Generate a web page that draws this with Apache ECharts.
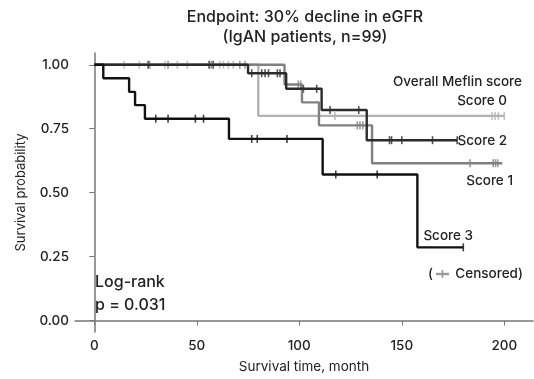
<!DOCTYPE html>
<html>
<head>
<meta charset="utf-8">
<script src="https://cdn.jsdelivr.net/npm/echarts@6/dist/echarts.min.js"></script>
<style>
  html, body { margin: 0; padding: 0; background: #fff; }
  #chart { width: 534px; height: 379px; }
</style>
</head>
<body>
<div id="chart"></div>
<script>
  // KM step curves: [month, survival]
  const score0Curve = [[0, 1], [80, 0.80], [200, 0.80]];
  const score1Curve = [[0, 1], [92.8, 0.923], [101.3, 0.853], [109.6, 0.763], [135.5, 0.615], [199, 0.615]];
  const score2Curve = [[0, 1], [75, 0.967], [93.6, 0.906], [110.9, 0.823], [132.9, 0.705], [177, 0.705]];
  const score3Curve = [[0, 1], [4.4, 0.947], [17, 0.894], [19.9, 0.842], [24.7, 0.789], [65.7, 0.71], [111.4, 0.571], [157.6, 0.286], [180, 0.286]];

  // censoring times (months)
  const score0Censor = [14.6, 22, 34.5, 40.5, 45.4, 61.3, 63, 65.4, 67.8, 117.4, 194, 195.5, 197.1, 200];
  const score1Censor = [27, 36, 57, 71, 73.5, 99.5, 100.7, 128.3, 129.6, 131, 183.3, 194.6, 195.7, 196.8];
  const score2Censor = [26.3, 56, 58, 76.8, 81.7, 83.3, 85, 89.3, 90.6, 102, 108.5, 115, 129, 144, 145, 150, 165, 177];
  const score3Censor = [30, 36, 49.3, 53.3, 76.8, 79.5, 94, 117.8, 138, 180];

  const xTicks = [0, 50, 100, 150, 200];
  const yTicks = [0, 0.25, 0.5, 0.75, 1];

  const groups = [
    { name: "Score 0", curve: score0Curve, censor: score0Censor, color: "#b3b3b3" },
    { name: "Score 1", curve: score1Curve, censor: score1Censor, color: "#808080" },
    { name: "Score 2", curve: score2Curve, censor: score2Censor, color: "#2b2b2b" },
    { name: "Score 3", curve: score3Curve, censor: score3Censor, color: "#111111" }
  ];

  function survAt(curve, t) {
    let s = curve[0][1];
    curve.forEach(p => { if (p[0] <= t) s = p[1]; });
    return s;
  }

  const FONT = "Inter, 'Noto Sans', sans-serif";

  let series = [];
  groups.forEach(g => {
    series.push({
      name: g.name,
      type: "line",
      step: "end",
      data: g.curve,
      symbol: "none",
      lineStyle: { color: g.color, width: 2.4 },
      silent: true
    });
    series.push({
      name: g.name + " censor",
      type: "scatter",
      data: g.censor.map(t => [t, survAt(g.curve, t)]),
      symbol: "rect",
      symbolSize: [1.6, 8],
      itemStyle: { color: g.color },
      silent: true
    });
  });

  function label(text, x, y, size, align) {
    return {
      type: "text", x: x, y: y,
      style: { text: text, font: "500 " + size + "px " + FONT, fill: "#222", align: align || "left", verticalAlign: "middle" }
    };
  }

  const chart = echarts.init(document.getElementById("chart"));
  chart.setOption({
    animation: false,
    backgroundColor: "#fff",
    grid: { left: 75, right: 1, top: 53, bottom: 42 },
    xAxis: {
      type: "value",
      min: -9.4,
      max: 214,
      splitLine: { show: false },
      axisLine: { lineStyle: { color: "#777", width: 1.5 } },
      axisTick: { show: true, length: 5, lineStyle: { color: "#777" }, customValues: xTicks },
      axisLabel: { color: "#222", fontSize: 13.5, fontWeight: 500, fontFamily: FONT, margin: 7, customValues: xTicks },
      name: "Survival time, month",
      nameLocation: "middle",
      nameGap: 28,
      nameTextStyle: { color: "#222", fontSize: 13.5, fontFamily: FONT }
    },
    yAxis: {
      type: "value",
      min: -0.045,
      max: 1.046,
      splitLine: { show: false },
      axisLine: { show: true, lineStyle: { color: "#777", width: 1.5 } },
      axisTick: { show: true, length: 5, lineStyle: { color: "#777" }, customValues: yTicks },
      axisLabel: {
        color: "#222", fontSize: 13.5, fontWeight: 500, fontFamily: FONT, margin: 6,
        customValues: yTicks,
        formatter: v => v.toFixed(2)
      },
      name: "Survival probability",
      nameLocation: "middle",
      nameGap: 47,
      nameTextStyle: { color: "#222", fontSize: 13, fontFamily: FONT }
    },
    series: series,
    graphic: [
      label("Endpoint: 30% decline in eGFR", 305, 17, 16, "center"),
      label("(IgAN patients, n=99)", 305, 37, 16, "center"),
      label("Overall Meflin score", 522, 82, 13.5, "right"),
      label("Score 0", 507, 101, 13.5, "right"),
      label("Score 2", 507, 141, 13.5, "right"),
      label("Score 1", 513, 181, 13.5, "right"),
      label("Score 3", 473, 236, 13.5, "right"),
      label("(", 428, 274, 13.5, "left"),
      label("Censored)", 523, 274, 13.5, "right"),
      { type: "line", shape: { x1: 436, y1: 274, x2: 449, y2: 274 }, style: { stroke: "#999", lineWidth: 2.4 } },
      { type: "rect", shape: { x: 441.7, y: 270, width: 1.6, height: 8 }, style: { fill: "#999" } },
      label("Log-rank", 95, 282, 16, "left"),
      label("p = 0.031", 95, 305, 16, "left")
    ]
  });
</script>
</body>
</html>
